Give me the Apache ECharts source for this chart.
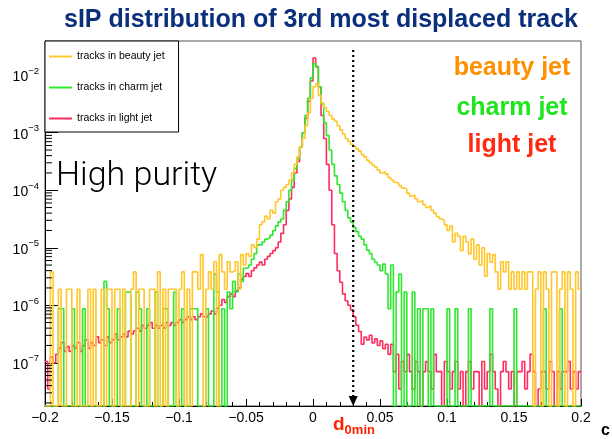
<!DOCTYPE html>
<html><head><meta charset="utf-8">
<script src="https://cdn.jsdelivr.net/npm/echarts@6/dist/echarts.min.js"></script>
<style>html,body{margin:0;padding:0;background:#fff}#c{width:612px;height:439px}</style>
</head><body><div id="c"></div>
<script>
// ---- histogram binning (sIP, cm) ----
const binStart = -0.2;
const binWidth = 0.002;

// ---- bin contents (0 = empty bin) ----
const beauty = [
0,0,3.8e-6,0,0,1.9e-6,0,0,1.9e-6,1.9e-6,
0,0,1.9e-6,0,0,0,1.9e-6,0,1.9e-6,0,
0,1.9e-6,0,1.9e-6,1.9e-6,0,1.9e-6,1.9e-6,0,1.9e-6,
0,0,1.9e-6,3.8e-6,0,1.9e-6,1.9e-6,0,0,1.9e-6,
1.9e-6,0,3.8e-6,0,1.9e-6,0,1.9e-6,1.9e-6,1.9e-6,0,
1.9e-6,3.8e-6,0,1.9e-6,0,3.8e-6,3.8e-6,1.9e-6,7.6e-6,0,
1.9e-6,3.8e-6,1.9e-6,5.7e-6,0,7.6e-6,3.8e-6,1.9e-6,5.7e-6,3.8e-6,
4.0e-6,5.7e-6,1.9e-6,7.6e-6,5.0e-6,7.9e-6,7.1e-6,1.12e-5,1.0e-5,1.41e-5,
2.51e-5,2.82e-5,3.55e-5,3.16e-5,4.47e-5,3.98e-5,6.31e-5,7.08e-5,1.0e-4,1.12e-4,
1.26e-4,1.51e-4,2.0e-4,2.82e-4,3.8e-4,5.62e-4,7.94e-4,1.32e-3,2.24e-3,3.98e-3,
6.31e-3,7.08e-3,4.47e-3,3.31e-3,2.75e-3,2.34e-3,2.0e-3,1.74e-3,1.58e-3,1.32e-3,
1.12e-3,9.5e-4,7.94e-4,7.08e-4,6.31e-4,5.75e-4,5.25e-4,4.79e-4,4.17e-4,3.8e-4,
3.31e-4,3.02e-4,2.75e-4,2.51e-4,2.24e-4,2.0e-4,2.09e-4,1.91e-4,1.66e-4,1.51e-4,
1.38e-4,1.32e-4,1.2e-4,1.1e-4,1.05e-4,8.9e-5,7.9e-5,8.3e-5,7.1e-5,6.3e-5,
6.6e-5,5.6e-5,5.0e-5,5.4e-5,4.5e-5,4.0e-5,3.5e-5,3.2e-5,3.0e-5,2.5e-5,
2.0e-5,2.4e-5,1.26e-5,1.78e-5,1.58e-5,8.9e-6,1.58e-5,1.26e-5,7.9e-6,1.41e-5,
6.3e-6,1.12e-5,5.0e-6,1.0e-5,3.2e-6,7.9e-6,5.6e-6,7.6e-6,3.8e-6,1.9e-6,
5.7e-6,3.8e-6,5.7e-6,1.9e-6,3.8e-6,1.9e-6,3.8e-6,1.9e-6,3.8e-6,1.9e-6,
3.8e-6,3.8e-6,0,1.9e-6,3.8e-6,0,3.8e-6,1.9e-6,0,3.8e-6,
3.8e-6,0,1.9e-6,3.8e-6,0,3.8e-6,1.9e-6,0,3.8e-6,1.9e-6
];
const charm = [
0,0,0,0,0,8.7e-7,8.7e-7,0,0,0,
8.7e-7,0,0,0,8.7e-7,0,0,0,0,0,
0,0,2.6e-6,8.7e-7,0,0,0,8.7e-7,0,0,
1.7e-6,1.7e-6,0,0,1.7e-6,8.7e-7,0,0,8.7e-7,0,
0,1.7e-6,0,0,8.7e-7,8.7e-7,0,0,1.7e-6,0,
0,8.7e-7,0,0,8.7e-7,8.7e-7,8.7e-7,0,0,0,
8.7e-7,0,0,3.5e-6,1.7e-6,0,8.7e-7,0,1.7e-6,8.7e-7,
2.6e-6,1.7e-6,3.5e-6,2.6e-6,4.4e-6,4.5e-6,5.0e-6,6.3e-6,7.9e-6,1.12e-5,
1.12e-5,1.26e-5,1.41e-5,1.51e-5,1.66e-5,2.0e-5,2.4e-5,2.82e-5,3.16e-5,4.47e-5,
6.31e-5,1.0e-4,1.51e-4,2.4e-4,3.55e-4,5.62e-4,1.0e-3,2.0e-3,3.98e-3,8.91e-3,
1.58e-2,1.41e-2,6.31e-3,3.16e-3,1.51e-3,8.91e-4,5.01e-4,2.82e-4,1.78e-4,1.26e-4,
8.91e-5,6.31e-5,4.47e-5,3.31e-5,2.82e-5,2.24e-5,1.91e-5,1.58e-5,1.41e-5,1.12e-5,
9.1e-6,7.9e-6,6.3e-6,5.6e-6,5.0e-6,4.0e-6,5.2e-6,3.5e-6,8.7e-7,5.0e-6,
0,1.7e-6,3.5e-6,0,1.7e-6,0,0,1.7e-6,0,8.7e-7,
0,8.7e-7,8.7e-7,0,8.7e-7,0,0,0,0,0,
8.7e-7,0,0,8.7e-7,0,0,0,0,8.7e-7,0,
0,0,0,0,0,0,8.7e-7,0,0,0,
0,0,0,0,0,8.7e-7,0,0,0,0,
0,0,0,0,0,0,8.7e-7,0,0,0,
0,0,8.7e-7,0,0,0,0,0,0,0
];
const light = [
1.05e-7,3.5e-8,1.26e-7,1.0e-7,1.41e-7,1.78e-7,2.24e-7,1.58e-7,1.91e-7,1.58e-7,
2.0e-7,1.78e-7,2.24e-7,1.58e-7,2.0e-7,2.51e-7,1.78e-7,2.24e-7,2.0e-7,2.82e-7,
2.24e-7,2.51e-7,2.0e-7,2.82e-7,2.24e-7,2.51e-7,3.16e-7,2.51e-7,2.82e-7,3.16e-7,
2.82e-7,3.55e-7,3.16e-7,3.55e-7,3.98e-7,3.55e-7,4.47e-7,3.98e-7,4.47e-7,5.01e-7,
3.98e-7,4.47e-7,3.98e-7,4.47e-7,4.0e-7,5.01e-7,4.47e-7,5.01e-7,4.47e-7,5.01e-7,
5.62e-7,5.01e-7,5.62e-7,6.31e-7,5.62e-7,6.31e-7,5.62e-7,6.31e-7,7.08e-7,6.31e-7,
6.31e-7,7.08e-7,7.94e-7,7.08e-7,8.91e-7,1.0e-6,1.26e-6,1.12e-6,1.41e-6,1.58e-6,
1.41e-6,1.78e-6,2.0e-6,2.82e-6,3.16e-6,3.55e-6,3.16e-6,3.98e-6,4.47e-6,5.01e-6,
5.62e-6,5.01e-6,6.31e-6,7.08e-6,7.94e-6,8.91e-6,1.0e-5,1.26e-5,1.78e-5,2.51e-5,
4.47e-5,7.08e-5,1.12e-4,2.0e-4,3.16e-4,5.62e-4,1.0e-3,1.78e-3,3.55e-3,7.94e-3,
2.0e-2,1.41e-2,6.31e-3,2.0e-3,7.94e-4,2.82e-4,1.0e-4,2.51e-5,7.94e-6,3.98e-6,
2.51e-6,1.58e-6,1.2e-6,1.0e-6,8.3e-7,6.3e-7,4.5e-7,3.5e-7,2.1e-7,2.8e-7,
2.5e-7,3.0e-7,2.2e-7,2.6e-7,2.0e-7,2.4e-7,1.75e-7,2.1e-7,1.4e-7,2.1e-7,
7e-8,1.4e-7,3.5e-8,1.05e-7,7e-8,1.4e-7,7e-8,3.5e-8,1.05e-7,7e-8,
0,7e-8,1.05e-7,7e-8,3.5e-8,1.4e-7,7e-8,7e-8,0,1.05e-7,
7e-8,3.5e-8,7e-8,1.05e-7,3.5e-8,7e-8,0,7e-8,1.05e-7,3.5e-8,
7e-8,7e-8,0,1.05e-7,3.5e-8,7e-8,1.4e-7,7e-8,3.5e-8,0,
7e-8,1.05e-7,7e-8,3.5e-8,7e-8,0,7e-8,7e-8,1.05e-7,3.5e-8,
7e-8,1.4e-7,7e-8,0,3.5e-8,7e-8,7e-8,3.5e-8,1.05e-7,7e-8,
0,7e-8,3.5e-8,7e-8,7e-8,1.05e-7,3.5e-8,7e-8,3.5e-8,7e-8
];

// ---- axes ----
const X_MIN = -0.2, X_MAX = 0.2, X_INTERVAL = 0.05;
const Y_MIN = 1.77e-8, Y_MAX = 3.94e-2;
const yDecades = [-8, -7, -6, -5, -4, -3, -2];
const seriesNames = ['tracks in beauty jet', 'tracks in charm jet', 'tracks in light jet'];
const seriesColors = ['#ffc72c', '#2ee82e', '#ff2d5f'];

// ---- annotation ----
const D0MIN = 0.03;
const D0_LINE_TOP = 2.74e-2;

function histData(vals) {
  const pts = vals.map((v, i) => [+(binStart + i * binWidth).toFixed(4), v > 0 ? v : Y_MIN]);
  const last = vals[vals.length - 1];
  pts.push([+(binStart + vals.length * binWidth).toFixed(4), last > 0 ? last : Y_MIN]);
  return pts;
}

const yMinor = [];
yDecades.forEach(d => { for (let m = 2; m <= 9; m++) { const v = m * Math.pow(10, d); if (v > Y_MIN && v < Y_MAX) yMinor.push([X_MIN, v]); } });

const FONT = 'Liberation Sans, Arial, Helvetica, sans-serif';

function histSeries(name, vals, color) {
  return {
    name, type: 'line', step: 'end', data: histData(vals), symbol: 'none', showSymbol: false,
    lineStyle: { color, width: 1.6 }, itemStyle: { color }, clip: true, animation: false, z: 2
  };
}

const chart = echarts.init(document.getElementById('c'), null, { renderer: 'canvas' });
chart.setOption({
  animation: false,
  backgroundColor: '#fff',
  grid: { left: 45, right: 31, top: 41, bottom: 33, show: true, borderColor: '#555', borderWidth: 1, backgroundColor: 'transparent' },
  legend: {
    data: seriesNames, orient: 'vertical', left: 45, top: 41, padding: [10, 14, 8, 4], itemGap: 20,
    itemWidth: 23, itemHeight: 2, icon: 'rect', selectedMode: false,
    textStyle: { fontSize: 10.5, color: '#000', fontFamily: FONT },
    borderColor: '#000', borderWidth: 1, backgroundColor: '#fff', z: 6
  },
  xAxis: {
    type: 'value', min: X_MIN, max: X_MAX, interval: X_INTERVAL,
    axisLine: { show: true, onZero: false, lineStyle: { color: '#000', width: 1 } },
    axisTick: { show: true, inside: true, length: 7, lineStyle: { color: '#000' } },
    minorTick: { show: true, splitNumber: 5, length: 4, lineStyle: { color: '#000' } },
    splitLine: { show: false },
    axisLabel: {
      color: '#000', fontSize: 14, fontFamily: FONT, margin: 5,
      formatter: v => (v < -1e-9 ? '\u2212' : '') + parseFloat(Math.abs(v).toFixed(3))
    }
  },
  yAxis: {
    type: 'log', logBase: 10, min: Y_MIN, max: Y_MAX,
    axisLine: { show: true, onZero: false, lineStyle: { color: '#000', width: 1 } },
    axisTick: { show: true, inside: true, length: 13, lineStyle: { color: '#000' } },
    minorTick: { show: false },
    splitLine: { show: false },
    axisLabel: {
      margin: 6, color: '#000', fontFamily: FONT,
      formatter: v => {
        const l = Math.log10(v), e = Math.round(l);
        if (Math.abs(l - e) > 1e-6) return '';
        return '{b|10}{s|' + (e < 0 ? '\u2212' : '') + Math.abs(e) + '}';
      },
      rich: {
        b: { fontSize: 14, lineHeight: 18, verticalAlign: 'bottom', fontFamily: FONT, color: '#000' },
        s: { fontSize: 9.5, lineHeight: 9, verticalAlign: 'top', fontFamily: FONT, color: '#000' }
      }
    }
  },
  series: [
    histSeries(seriesNames[2], light, seriesColors[2]),
    histSeries(seriesNames[1], charm, seriesColors[1]),
    histSeries(seriesNames[0], beauty, seriesColors[0]),
    {
      type: 'custom', name: 'yMinorTicks', data: yMinor, silent: true, z: 3, animation: false,
      renderItem: (params, api) => {
        const p = api.coord([api.value(0), api.value(1)]);
        return { type: 'line', shape: { x1: p[0], y1: p[1], x2: p[0] + 7, y2: p[1] }, style: { stroke: '#000', lineWidth: 1 } };
      }
    },
    {
      type: 'custom', name: 'd0min', data: [[D0MIN, D0_LINE_TOP]], silent: true, z: 5, animation: false,
      renderItem: (params, api) => {
        const top = api.coord([api.value(0), api.value(1)]);
        const bot = api.coord([api.value(0), Y_MIN]);
        return { type: 'group', children: [
          { type: 'line', shape: { x1: top[0], y1: top[1], x2: bot[0], y2: bot[1] - 10 }, style: { stroke: '#000', lineWidth: 2.2, lineDash: [2, 3] } },
          { type: 'polygon', shape: { points: [[bot[0] - 4.5, bot[1] - 10], [bot[0] + 4.5, bot[1] - 10], [bot[0], bot[1]]] }, style: { fill: '#000' } }
        ] };
      }
    }
  ],
  graphic: [
    { type: 'text', x: 321, y: 20, style: { text: 'sIP distribution of 3rd most displaced track', fill: '#0b2f7b', fontSize: 25, fontWeight: 'bold', fontFamily: FONT, align: 'center', verticalAlign: 'middle' } },
    { type: 'text', x: 512, y: 68, z: 10, style: { text: 'beauty jet', fill: '#ff9000', fontSize: 25, fontWeight: 'bold', fontFamily: FONT, align: 'center', verticalAlign: 'middle' } },
    { type: 'text', x: 512, y: 108, z: 10, style: { text: 'charm jet', fill: '#1de61d', fontSize: 25, fontWeight: 'bold', fontFamily: FONT, align: 'center', verticalAlign: 'middle' } },
    { type: 'text', x: 512, y: 145, z: 10, style: { text: 'light jet', fill: '#ff2a10', fontSize: 25, fontWeight: 'bold', fontFamily: FONT, align: 'center', verticalAlign: 'middle' } },
    { type: 'text', x: 56, y: 176, z: 10, style: { text: 'High purity', fill: '#000', fontSize: 34, fontWeight: 300, fontFamily: 'Roboto, Liberation Sans, sans-serif', align: 'left', verticalAlign: 'middle' } },
    { type: 'text', x: 333, y: 426, z: 10, style: { text: '{d|d}{s|0min}', align: 'left', verticalAlign: 'middle',
        rich: { d: { fontSize: 19, fontWeight: 'bold', fill: '#ff2200', fontFamily: FONT, lineHeight: 22, verticalAlign: 'top' },
                s: { fontSize: 13, fontWeight: 'bold', fill: '#ff2200', fontFamily: FONT, lineHeight: 10, verticalAlign: 'bottom' } } } },
    { type: 'text', x: 601, y: 431, z: 10, style: { text: 'c', fill: '#000', fontSize: 16, fontWeight: 'bold', fontFamily: FONT, align: 'left', verticalAlign: 'middle' } }
  ]
});
</script></body></html>
